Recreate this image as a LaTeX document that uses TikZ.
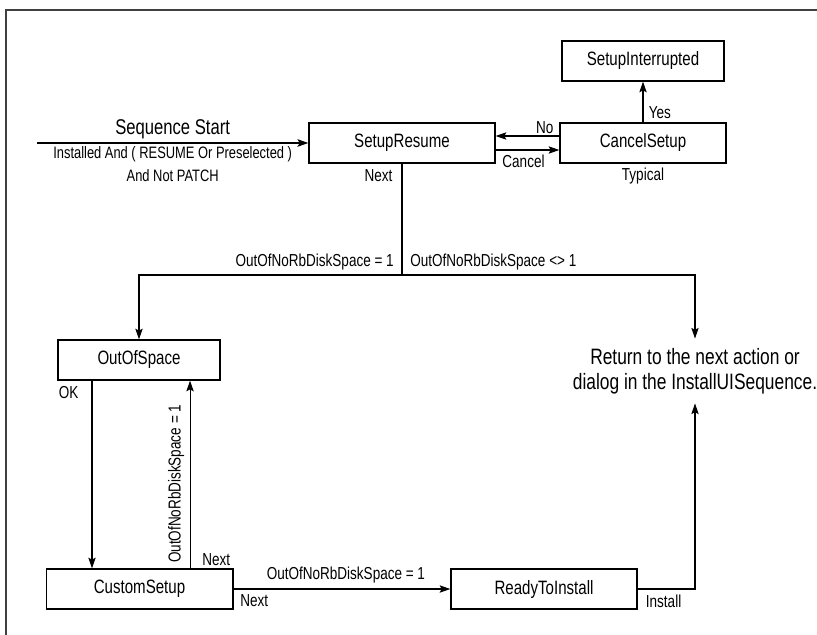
\documentclass[tikz,border=0pt]{standalone}
\usepackage{fontspec}
\setmainfont{Liberation Sans}[FakeStretch=0.78]
\usetikzlibrary{positioning,arrows.meta}

\begin{document}
\begin{tikzpicture}[x=0.75pt, y=-0.75pt,
  dlg/.style={draw, line width=1pt, minimum height=30pt, inner sep=0pt, font=\fontsize{14.5}{17}\selectfont},
  lbl/.style={font=\fontsize{13}{15}\selectfont, inner sep=1pt},
  link/.style={line width=0.8pt, -{Stealth[length=8pt,width=5.5pt,inset=1.5pt]}}
]
  \useasboundingbox (0,0) rectangle (817,635);
  \draw[line width=0.9pt, black!75] (817,10) -- (6,10) -- (6,635);

  \node[dlg, minimum width=139.5pt] (resume)    at (402,143)   {SetupResume};
  \node[dlg, minimum width=124.5pt] (cancel)    at (643,143)   {CancelSetup};
  \node[dlg, minimum width=121.5pt] (interrupt) at (643,61)    {SetupInterrupted};
  \node[dlg, minimum width=121.5pt] (oospace)   at (139,360)   {OutOfSpace};
  \node[dlg, minimum width=140pt]   (custom)    at (139.5,589) {CustomSetup};
  \node[dlg, minimum width=139.5pt] (ready)     at (544,589)   {ReadyToInstall};
  \node[align=center, inner xsep=2pt, inner ysep=7pt, font=\fontsize{16.7}{18.75}\selectfont] (ret) at (695,371)
    {Return to the next action or\\dialog in the InstallUISequence.};

  \coordinate (seq)   at (37,143);
  \coordinate (split) at (402,275);
  \coordinate (okx)   at ([xshift=-35.25pt]oospace.south);
  \coordinate (upx)   at ([xshift=37.9pt]custom.north);

  \draw[link, line width=1.6pt] (seq) -- node[above, inner sep=2pt, font=\fontsize{16}{18}\selectfont] (lstart) {Sequence Start}
    node[below, lbl, align=center, inner sep=2pt, font=\fontsize{12.4}{17.25}\selectfont] (lcond) {Installed And ( RESUME Or Preselected )\\And Not PATCH} (resume);

  \draw[line width=0.8pt] (resume.south) -- (split);
  \draw[link] (split) -| (oospace.north);
  \draw[link] (split) -| (ret.north);
  \node[lbl, anchor=north east] (lnext1) at ([xshift=-6pt,yshift=-3.5pt]resume.south) {Next};
  \node[lbl, anchor=south east] (lone)   at ([xshift=-5pt,yshift=2.5pt]split) {OutOfNoRbDiskSpace = 1};
  \node[lbl, anchor=south west] (lnot)   at ([xshift=5pt,yshift=2.5pt]split)  {OutOfNoRbDiskSpace <> 1};

  \draw[link] ([yshift=5.25pt]cancel.west) -- node[lbl, pos=0, anchor=south east, xshift=-3pt] (lno) {No} ([yshift=5.25pt]resume.east);
  \draw[link] ([yshift=-5.25pt]resume.east) -- node[lbl, midway, below=2pt, xshift=-3pt] (lcancel) {Cancel} ([yshift=-5.25pt]cancel.west);
  \draw[link] (cancel.north) -- node[lbl, pos=0.25, right=3pt] (lyes) {Yes} (interrupt.south);
  \node[lbl, below=2pt of cancel] (ltyp) {Typical};

  \draw[link] (okx) -- (okx |- custom.north);
  \node[lbl, anchor=north west] (lok) at ([yshift=-3pt]oospace.south west) {OK};
  \draw[link] (upx) -- node[lbl, pos=0.45, sloped, above=3pt] (lup) {OutOfNoRbDiskSpace = 1} (upx |- oospace.south);
  \node[lbl, anchor=south west] (lnext2) at ([xshift=8pt,yshift=1pt]upx) {Next};

  \draw[link] (custom.east) -- node[lbl, above=3pt, xshift=3pt] (lfree) {OutOfNoRbDiskSpace = 1} (ready.west);
  \node[lbl, anchor=north west] (lnext3) at ([xshift=4pt,yshift=-3pt]custom.east) {Next};
  \draw[link] (ready.east) -| (ret.south);
  \node[lbl, anchor=north west] (linst) at ([xshift=5pt,yshift=-3pt]ready.east) {Install};
\end{tikzpicture}
\end{document}
